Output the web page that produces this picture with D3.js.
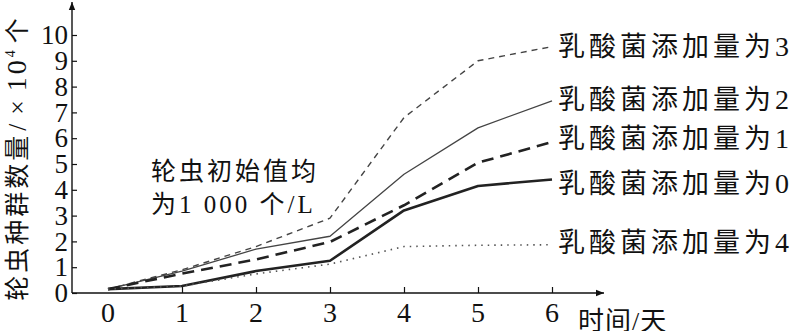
<!DOCTYPE html>
<html>
<head>
<meta charset="utf-8">
<script src="https://cdn.jsdelivr.net/npm/d3@7"></script>
<style>
  html, body { margin: 0; padding: 0; background: #fff; }
  svg { display: block; }
  text { fill: #111; }
</style>
</head>
<body>
<svg id="chart" width="800" height="331"></svg>
<script>
// Rotifer population (×10^4) over 6 days for five lactic-acid-bacteria doses
const days = [0, 1, 2, 3, 4, 5, 6];
const dose3 = [0.15, 0.9, 1.8, 2.9, 6.8, 9.0, 9.55];
const dose2 = [0.15, 0.85, 1.7, 2.2, 4.6, 6.4, 7.45];
const dose1 = [0.15, 0.75, 1.3, 1.98, 3.4, 5.05, 5.85];
const dose0 = [0.15, 0.27, 0.85, 1.25, 3.2, 4.15, 4.4];
const dose4 = [0.15, 0.27, 0.74, 1.12, 1.8, 1.85, 1.87];
const seriesNames = ["乳酸菌添加量为3", "乳酸菌添加量为2", "乳酸菌添加量为1", "乳酸菌添加量为0", "乳酸菌添加量为4"];
const labelLevels = [9.55, 7.5, 6.0, 4.25, 1.95];
const yTicks = [0, 1, 2, 3, 4, 5, 6, 7, 8, 9, 10];
const xTicks = [0, 1, 2, 3, 4, 5, 6];
const yTitle = "轮虫种群数量/×10";
const yTitleSup = "4";
const yTitleUnit = "个";
const xTitle = "时间/天";
const noteLines = ["轮虫初始值均", "为1 000 个/L"];

const styles = [
  { width: 1.4, dash: "6,5", color: "#444" },
  { width: 1.3, dash: null, color: "#444" },
  { width: 2.6, dash: "12,7", color: "#222" },
  { width: 2.6, dash: null, color: "#222" },
  { width: 1.6, dash: "1.5,5", color: "#555" }
];
const seriesValues = [dose3, dose2, dose1, dose0, dose4];

const svg = d3.select("#chart");
const FONT = "Liberation Serif, Times New Roman, Tinos, DejaVu Serif, Noto Sans CJK SC, serif";
const CJK = "Noto Sans CJK SC, Liberation Serif, sans-serif";

const x = d3.scaleLinear().domain([0, 6]).range([108, 552]);
const y = d3.scaleLinear().domain([0, 10]).range([293, 35]);
const axisX0 = 72, axisY0 = 293;

// arrow marker
svg.append("defs").append("marker")
  .attr("id", "arrow").attr("viewBox", "0 0 10 10")
  .attr("refX", 10).attr("refY", 5)
  .attr("markerWidth", 8).attr("markerHeight", 8)
  .attr("markerUnits", "userSpaceOnUse")
  .attr("orient", "auto")
  .append("path").attr("d", "M0,1 L10,5 L0,9 Z").attr("fill", "#111");

// axes lines
svg.append("line").attr("x1", axisX0).attr("y1", axisY0).attr("x2", 604).attr("y2", axisY0)
  .attr("stroke", "#111").attr("stroke-width", 1.4).attr("marker-end", "url(#arrow)");
svg.append("line").attr("x1", axisX0).attr("y1", axisY0).attr("x2", axisX0).attr("y2", 2)
  .attr("stroke", "#111").attr("stroke-width", 1.4).attr("marker-end", "url(#arrow)");

// y axis ticks and labels
const yAxis = d3.axisRight(y).tickValues(yTicks).tickSize(5).tickFormat("");
const gy = svg.append("g").attr("transform", `translate(${axisX0},0)`).call(yAxis);
gy.select(".domain").remove();
gy.selectAll(".tick line").attr("stroke", "#111").attr("stroke-width", 1.2);
svg.append("g").selectAll("text").data(yTicks).join("text")
  .attr("x", 68).attr("y", d => y(d))
  .attr("dy", "0.34em")
  .attr("text-anchor", "end")
  .style("font-family", FONT).attr("font-size", 27)
  .text(d => d);

// x axis ticks and labels
const xAxis = d3.axisTop(x).tickValues(xTicks.slice(1)).tickSize(6).tickFormat("");
const gx = svg.append("g").attr("transform", `translate(0,${axisY0})`).call(xAxis);
gx.select(".domain").remove();
gx.selectAll(".tick line").attr("stroke", "#111").attr("stroke-width", 1.2);
svg.append("g").selectAll("text").data(xTicks).join("text")
  .attr("x", d => x(d)).attr("y", 322)
  .attr("text-anchor", "middle")
  .style("font-family", FONT).attr("font-size", 28)
  .text(d => d);

// series lines
const line = d3.line().x((d, i) => x(days[i])).y(d => y(d));
seriesValues.forEach((vals, k) => {
  const s = styles[k];
  svg.append("path").datum(vals)
    .attr("d", line)
    .attr("fill", "none")
    .attr("stroke", s.color)
    .attr("stroke-width", s.width)
    .attr("stroke-linejoin", "round")
    .attr("stroke-dasharray", s.dash);
});

// series labels at line ends
svg.append("g").selectAll("text").data(seriesNames).join("text")
  .attr("x", 558).attr("y", (d, i) => y(labelLevels[i]))
  .attr("dy", "0.36em")
  .style("font-family", CJK).attr("font-size", 27)
  .attr("letter-spacing", 4)
  .text(d => d.slice(0, -1))
  .append("tspan").style("font-family", FONT).attr("font-size", 28).attr("letter-spacing", 0)
  .text(d => d.slice(-1));

// annotation
svg.append("g").selectAll("text").data(noteLines).join("text")
  .attr("x", 151).attr("y", (d, i) => 180 + i * 33)
  .style("font-family", FONT).attr("font-size", 25)
  .attr("letter-spacing", 3)
  .text(d => d);

// y axis title
const yt = svg.append("text")
  .attr("transform", "translate(26,158) rotate(-90)")
  .attr("text-anchor", "middle")
  .style("font-family", FONT).attr("font-size", 25)
  .attr("letter-spacing", 3);
yt.append("tspan").text(yTitle.slice(0, 6));
yt.append("tspan").attr("dx", 2).text(yTitle.slice(6, 7));
yt.append("tspan").attr("dx", 6).attr("font-size", 26).text(yTitle.slice(7, 8));
yt.append("tspan").attr("dx", 6).attr("font-size", 28).text(yTitle.slice(8));
yt.append("tspan").attr("dy", -11).attr("font-size", 14).text(yTitleSup);
yt.append("tspan").attr("dy", 11).attr("dx", 4).text(yTitleUnit);

// x axis title
svg.append("text").attr("x", 578).attr("y", 330)
  .style("font-family", FONT).attr("font-size", 26)
  .attr("letter-spacing", 1)
  .text(xTitle);
</script>
</body>
</html>
